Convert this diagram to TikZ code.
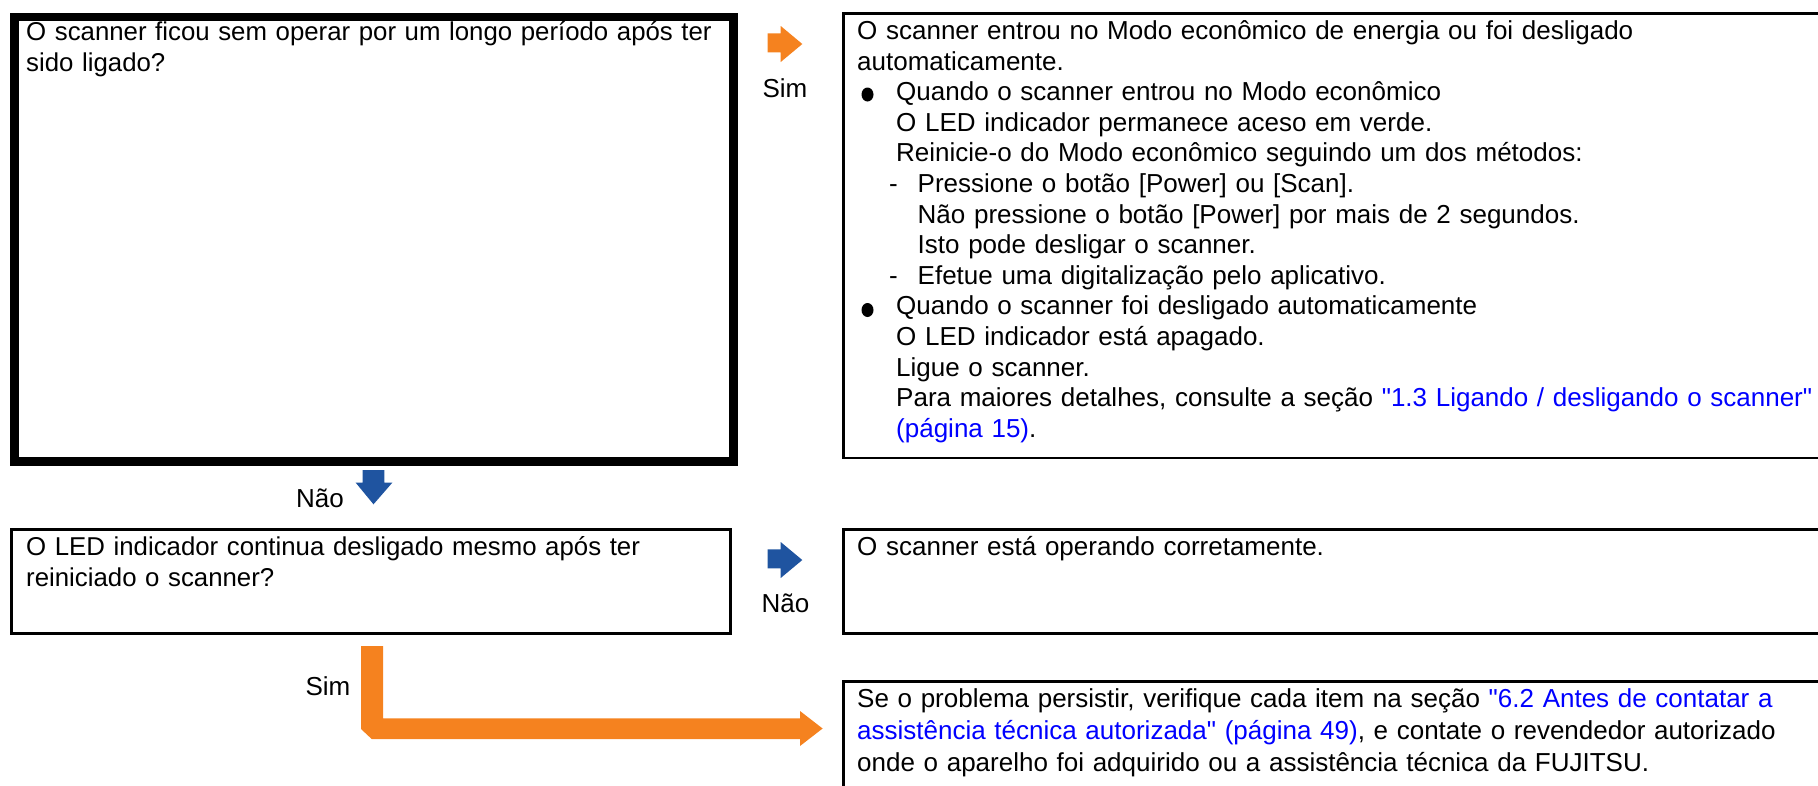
\documentclass[tikz,border=0pt]{standalone}
\usepackage{fontspec}
\setmainfont{Liberation Sans}[Ligatures=TeXOff]
\definecolor{arrOrange}{RGB}{245,130,31}
\definecolor{arrBlue}{RGB}{31,84,160}
\definecolor{linkBlue}{RGB}{0,0,255}
\newcommand\lnk[1]{\textcolor{linkBlue}{#1}}
\begin{document}
\begin{tikzpicture}[x=1pt,y=-1pt,
  thickbox/.style={draw=black,line width=8.5pt,inner sep=0pt,anchor=north west},
  thinbox/.style={draw=black,line width=2.5pt,inner sep=0pt,anchor=north west},
  txt/.style={anchor=base west,inner sep=0pt,align=left,text width=1000pt},
  lbl/.style={anchor=base,inner sep=0pt,font=\fontsize{26}{31}\selectfont},
  bul/.style={fill=black}]
\useasboundingbox (0,0) rectangle (1818,785);
\clip (0,0) rectangle (1818,785);

% boxes
\node[thickbox,minimum width=719.3pt,minimum height=444.8pt] (q1) at (10,12.5) {};
\node[thinbox,minimum width=990pt,minimum height=444.7pt] (r1) at (842,12) {};
\node[thinbox,minimum width=719pt,minimum height=104pt] (q2) at (10,528) {};
\node[thinbox,minimum width=990pt,minimum height=104pt] (r2) at (842,528) {};
\node[thinbox,minimum width=990pt,minimum height=130pt] (r3) at (842,680) {};

% texts
\node[txt,font=\fontsize{25.8}{31.7}\selectfont] (t1) at (26,40)
  {O scanner ficou sem operar por um longo período após ter\\sido ligado?};
\node[txt,font=\fontsize{26}{30.6}\selectfont] (t2) at (857,39.5)
  {O scanner entrou no Modo econômico de energia ou foi desligado\\
   automaticamente.\\
   \hspace*{39pt}Quando o scanner entrou no Modo econômico\\
   \hspace*{39pt}O LED indicador permanece aceso em verde.\\
   \hspace*{39pt}Reinicie-o do Modo econômico seguindo um dos métodos:\\
   \hspace*{32pt}\makebox[28.5pt][l]{-}Pressione o botão [Power] ou [Scan].\\
   \hspace*{60.5pt}Não pressione o botão [Power] por mais de 2 segundos.\\
   \hspace*{60.5pt}Isto pode desligar o scanner.\\
   \hspace*{32pt}\makebox[28.5pt][l]{-}Efetue uma digitalização pelo aplicativo.\\
   \hspace*{39pt}Quando o scanner foi desligado automaticamente\\
   \hspace*{39pt}O LED indicador está apagado.\\
   \hspace*{39pt}Ligue o scanner.\\
   \hspace*{39pt}Para maiores detalhes, consulte a seção \lnk{"1.3 Ligando / desligando o scanner"}\\
   \hspace*{39pt}\lnk{(página 15)}.};
\node[txt,font=\fontsize{25.8}{31.7}\selectfont] (t3) at (26,555)
  {O LED indicador continua desligado mesmo após ter\\reiniciado o scanner?};
\node[txt,font=\fontsize{26}{31.7}\selectfont] (t4) at (857,555)
  {O scanner está operando corretamente.};
\node[txt,font=\fontsize{26}{32}\selectfont] (t5) at (857,707.5)
  {Se o problema persistir, verifique cada item na seção \lnk{"6.2 Antes de contatar a}\\
   \lnk{assistência técnica autorizada" (página 49)}, e contate o revendedor autorizado\\
   onde o aparelho foi adquirido ou a assistência técnica da FUJITSU.};

% bullets
\fill[bul] (867.5,94.5) ellipse (6pt and 7pt);
\fill[bul] (867.5,310) ellipse (6pt and 7pt);

% labels
\node[lbl] (l1) at (785,97) {Sim};
\node[lbl] (l2) at (320,507.7) {Não};
\node[lbl] (l3) at (785.5,612.7) {Não};
\node[lbl] (l4) at (328,695) {Sim};

% arrows
\fill[arrOrange] (767.7,33.3) -- (780.7,33.3) -- (780.7,26) -- (802.3,44)
  -- (780.7,62) -- (780.7,52.3) -- (767.7,52.3) -- cycle;
\fill[arrBlue] (767.7,549.3) -- (780.7,549.3) -- (780.7,542) -- (802.3,560)
  -- (780.7,578) -- (780.7,568.3) -- (767.7,568.3) -- cycle;
\fill[arrBlue] (362.7,470) -- (384.3,470) -- (384.3,482.7) -- (392.3,482.7)
  -- (373.5,504.3) -- (355.7,482.7) -- (362.7,482.7) -- cycle;
\fill[arrOrange] (361,646) -- (383,646) -- (383,718.3) -- (800,718.3) -- (800,711)
  -- (822.6,728.5) -- (800,746) -- (800,739) -- (371.7,739) -- (361,729) -- cycle;
\end{tikzpicture}
\end{document}
